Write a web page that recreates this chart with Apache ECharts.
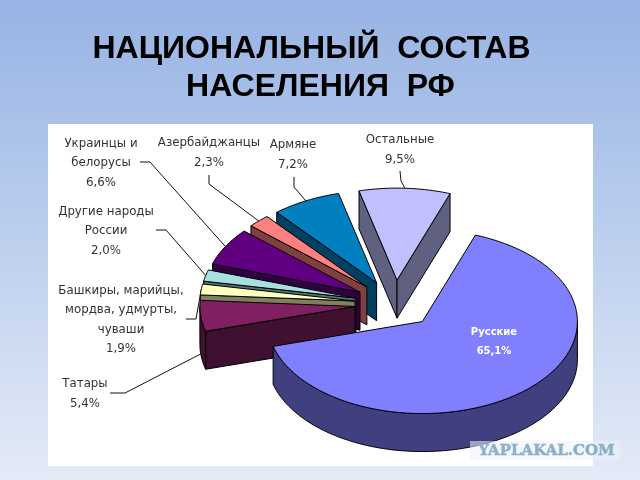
<!DOCTYPE html>
<html><head><meta charset="utf-8">
<style>html,body{margin:0;padding:0;background:#fff}#c{width:640px;height:480px;filter:blur(0.4px)}</style>
<script src="https://cdn.jsdelivr.net/npm/echarts@6/dist/echarts.min.js"></script>
</head><body><div id="c"></div>
<script>
const categories = ['Русские','Татары','Башкиры, марийцы,\nмордва, удмурты,\nчуваши','Другие народы\nРоссии','Украинцы и\nбелорусы','Азербайджанцы','Армяне','Остальные'];
const shares = [65.1,5.4,1.9,2.0,6.6,2.3,7.2,9.5];
const topColors = ['#8080ff','#802060','#ffffc0','#a8e0e0','#600080','#ff8080','#0080c0','#c0c0ff'];
const sideColors = ['#404080','#401030','#808060','#507070','#300040','#804040','#004060','#606080'];

const PIE = {cx:395, cy:304, rx:155, ry:92, depth:38, explode:0.26, startDeg:-70};
// label anchor (centre x, centre y) and leader elbow points, by category
const labelLayout = [
  {x:494,y:342,inside:true},
  {x:85,y:394,elbow:[[110,393],[125,393]]},
  {x:121,y:320,elbow:[[186,319],[196,319]]},
  {x:106,y:231,elbow:[[156,230],[166,230]]},
  {x:101,y:163,elbow:[[140,162],[150,162]]},
  {x:209,y:153,elbow:[[209,175],[209,184]]},
  {x:293,y:155,elbow:[[294,177],[294,187]]},
  {x:400,y:150,elbow:[[400,171],[401,181]]}
];
const total = shares.reduce((a,b)=>a+b,0);
const spans = []; let acc = PIE.startDeg;
shares.forEach(v=>{const d=v/total*360; spans.push([acc,acc+d]); acc+=d;});
const rad = d=>d*Math.PI/180;
const LINE = {stroke:'#000',lineWidth:1};

function renderSlice(params, api){
  const i = api.value(0);
  const [a,b] = spans[i], mid=(a+b)/2;
  const cx = PIE.cx + PIE.explode*PIE.rx*Math.cos(rad(mid));
  const cy = PIE.cy + PIE.explode*PIE.ry*Math.sin(rad(mid));
  const pt = (t,dz=0)=>[cx+PIE.rx*Math.cos(rad(t)), cy+PIE.ry*Math.sin(rad(t))+dz];
  const arc = (s,e,dz=0)=>{const out=[]; const n=Math.max(2,Math.ceil(e-s)); for(let k=0;k<=n;k++) out.push(pt(s+(e-s)*k/n,dz)); return out;};
  const kids=[];
  const L=labelLayout[i];
  // leader line
  if(L.elbow){
    const end = pt(mid, Math.sin(rad(mid))>0?PIE.depth:0);
    kids.push({type:'polyline',shape:{points:[...L.elbow,end]},style:{stroke:'#111',lineWidth:1,fill:null}});
  }
  const D=PIE.depth;
  const face=(pts,fill)=>({type:'polygon',shape:{points:pts},style:{fill,...LINE}});
  // cut faces
  if(Math.cos(rad(a))<0) kids.push(face([[cx,cy],pt(a),pt(a,D),[cx,cy+D]],sideColors[i]));
  if(Math.cos(rad(b))>0) kids.push(face([[cx,cy],pt(b),pt(b,D),[cx,cy+D]],sideColors[i]));
  // outer wall (front half only)
  const s=Math.max(a,0), e=Math.min(b,180);
  if(e>s) kids.push(face([...arc(s,e),...arc(s,e,D).reverse()],sideColors[i]));
  // top
  kids.push(face([[cx,cy],...arc(a,b)],topColors[i]));
  // label
  kids.push({type:'text',style:{
    text:categories[i]+'\n'+shares[i].toFixed(1).replace('.',',')+'%',
    x:L.x,y:L.y,align:'center',verticalAlign:'middle',
    fontFamily:'"DejaVu Sans"',fontSize:L.inside?10:11.8,lineHeight:19.5,
    fontWeight:L.inside?'bold':'normal',fill:L.inside?'#fff':'#333'}});
  return {type:'group',children:kids};
}
const drawOrder = shares.map((_,i)=>i).reverse();
const chart = echarts.init(document.getElementById('c'),null,{renderer:'canvas'});
chart.setOption({
  animation:false,
  backgroundColor:{type:'linear',x:0,y:0,x2:0,y2:1,colorStops:[{offset:0,color:'#98b3e4'},{offset:0.3,color:'#adc4ea'},{offset:1,color:'#e4ebf7'}]},
  graphic:[
    {type:'rect',z:0,shape:{x:48,y:124,width:545,height:342},style:{fill:'#fff'}},
    {type:'text',z:5,style:{text:'НАЦИОНАЛЬНЫЙ  СОСТАВ',x:311.5,y:49,align:'center',verticalAlign:'middle',font:'bold 32px "Liberation Sans"',fill:'#000'}},
    {type:'text',z:5,style:{text:'НАСЕЛЕНИЯ  РФ',x:320.5,y:87,align:'center',verticalAlign:'middle',font:'bold 32px "Liberation Sans"',fill:'#000'}},
    {type:'rect',z:20,shape:{x:470,y:441,width:150,height:19},style:{fill:'rgba(235,240,250,0.55)'}},
    {type:'text',z:21,style:{text:'YAPLAKAL.COM',x:546.5,y:451,align:'center',verticalAlign:'middle',font:'bold 15px "DejaVu Serif"',fill:'#8db0c8',stroke:'#8db0c8',lineWidth:0.5}}
  ],
  series:[{type:'custom',coordinateSystem:'none',z:10,renderItem:renderSlice,
    data:drawOrder.map(i=>[i,shares[i]])}]
});
</script></body></html>
